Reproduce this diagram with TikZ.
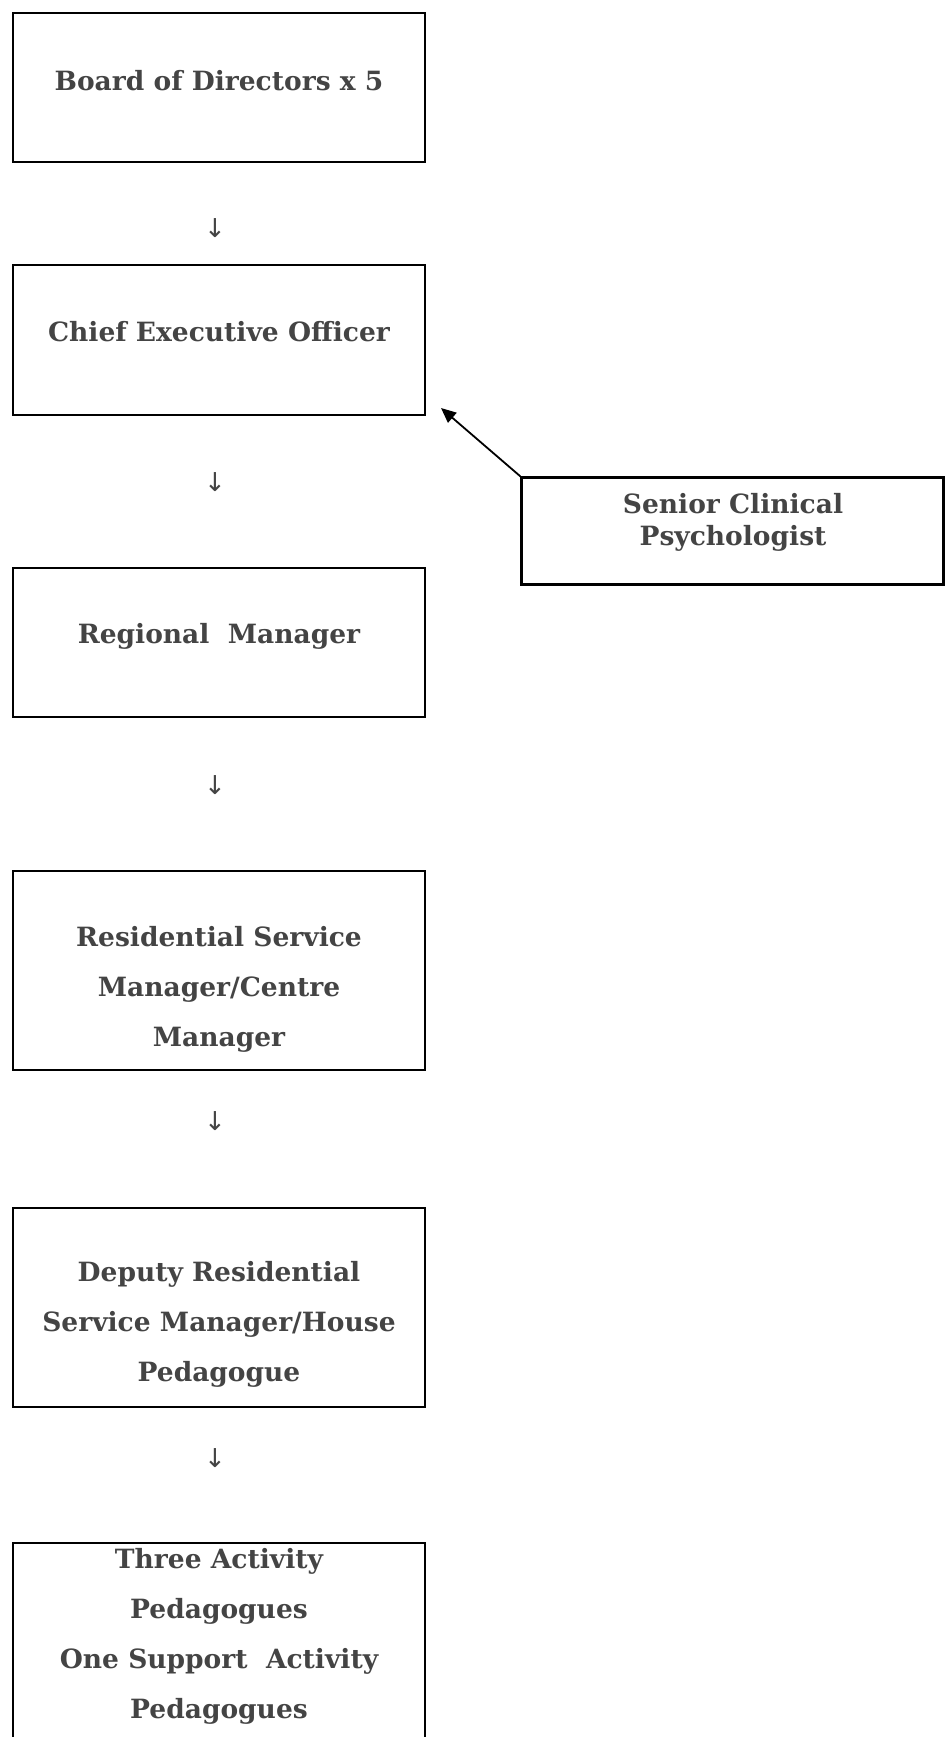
\documentclass[tikz,border=0pt]{standalone}
\usepackage{fontspec}
\setmainfont{DejaVu Serif}
\newfontfamily\arrowfont{DejaVu Sans}
\usepackage{xcolor}
\usepackage{tikz}
\usetikzlibrary{arrows.meta}
\definecolor{txtgray}{HTML}{444444}
\tikzset{
  box/.style={draw=black, line width=2.6pt, minimum width=412pt, inner sep=0pt},
  boxtext/.style={text=txtgray, inner sep=0pt, align=center,
    font=\fontsize{26.5}{50}\selectfont\bfseries},
  downarrow/.style={text=txtgray, inner sep=0pt, font=\arrowfont\fontsize{26}{26}\selectfont},
}

\begin{document}
\begin{tikzpicture}[x=1pt, y=-1pt]
  % 画布
  \clip (0,0) rectangle (951,1737);
  % 方框
  \node[box, minimum height=149pt] (board) at (219,87.5) {};
  \node[box, minimum height=150pt] (ceo) at (219,340) {};
  \node[box, minimum height=149pt] (regional) at (219,642.5) {};
  \node[box, minimum height=199pt] (rsm) at (219,970.5) {};
  \node[box, minimum height=199pt] (deputy) at (219,1307.5) {};
  \node[box, minimum height=400pt] (pedagogues) at (219,1743) {};
  \node[box, line width=2.2pt, minimum width=422pt, minimum height=107pt] (senior) at (732.5,531) {};
  % 文字
  \node[boxtext] (boardtxt) at (219,81) {Board of Directors x 5};
  \node[boxtext] (ceotxt) at (219,332) {Chief Executive Officer};
  \node[boxtext] (regionaltxt) at (219,636) {Regional\ \ Manager};
  \node[boxtext] (rsmtxt) at (219,989) {Residential Service\\Manager/Centre\\Manager};
  \node[boxtext] (deputytxt) at (219,1324) {Deputy Residential\\Service Manager/House\\Pedagogue};
  \node[boxtext] (pedagoguestxt) at (219,1636) {Three Activity\\Pedagogues\\One Support\ \ Activity\\Pedagogues};
  \node[boxtext, font=\fontsize{26.5}{32}\selectfont\bfseries] (seniortxt) at (733,522) {Senior Clinical\\Psychologist};
  % 向下箭头
  \node[downarrow] (arr1) at (215,228) {↓};
  \node[downarrow] (arr2) at (215,482) {↓};
  \node[downarrow] (arr3) at (215,785) {↓};
  \node[downarrow] (arr4) at (215,1121) {↓};
  \node[downarrow] (arr5) at (215,1458) {↓};
  % 斜箭头
  \coordinate (tip) at (441,408);
  \draw[-{Triangle[length=15pt,width=13pt]}, line width=1.8pt] (senior.north west) -- (tip);
\end{tikzpicture}
\end{document}
